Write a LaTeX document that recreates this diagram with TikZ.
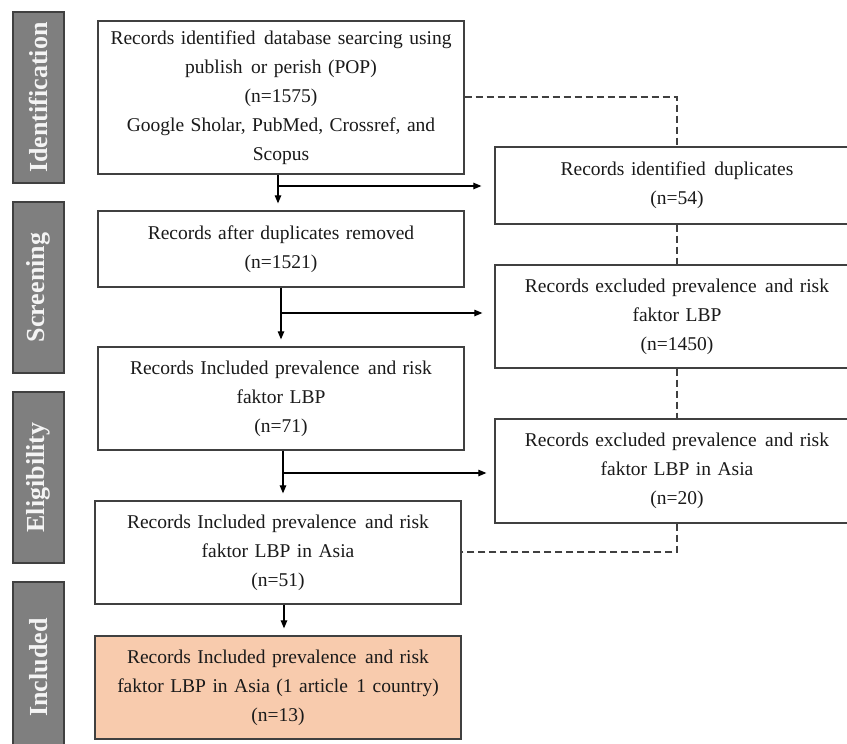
\documentclass[tikz,border=0pt]{standalone}
\usepackage{fontspec}
\setmainfont{Liberation Serif}
\usetikzlibrary{arrows.meta,calc}
\definecolor{boxline}{HTML}{404040}
\definecolor{sidefill}{HTML}{7F7F7F}
\definecolor{sidetext}{HTML}{F4F4F4}
\definecolor{incfill}{HTML}{F8CBAD}
\definecolor{txt}{HTML}{1A1A1A}
\newcommand{\xsp}{\ \hspace{2pt}}
\begin{document}
\begin{tikzpicture}[x=1pt,y=-1pt,
  flowbox/.style={draw=boxline, line width=1.3pt, fill=white, rectangle, inner sep=0pt,
    minimum width=366pt, text width=350pt, align=center, text=txt,
    font=\fontsize{19.5}{29}\selectfont},
  sidebox/.style={draw=boxline, line width=1.3pt, fill=sidefill, rectangle, inner sep=0pt,
    minimum width=171pt, minimum height=51pt, rotate=90, text=sidetext,
    font=\fontsize{26}{30}\selectfont\bfseries},
  arr/.style={line width=1.2pt, draw=black, -{Triangle[length=8pt,width=6.5pt]}},
  dashline/.style={line width=1.1pt, draw=boxline, dash pattern=on 7pt off 4pt}
]
\useasboundingbox (0,0) rectangle (847,744);
\fill[white] (0,0) rectangle (847,744);

% dashed line corners
\coordinate (dtop) at (677,97);
\coordinate (dbot) at (677,552);

% side labels
\node[sidebox] (sid) at (38.5,97.5) {Identification};
\node[sidebox] (sscr) at (38.5,287.5) {Screening};
\node[sidebox] (seli) at (38.5,477.5) {Eligibility};
\node[sidebox] (sinc) at (38.5,667.5) {Included};

% left column
\node[flowbox, minimum height=153pt] (b1) at (281,97.5)
 {Records identified\xsp database searcing using\\publish\xsp or perish (POP)\\(n=1575)\\Google Sholar, PubMed, Crossref, and\\Scopus};
\node[flowbox, minimum height=76pt] (b2) at (281,249)
 {Records after duplicates removed\\(n=1521)};
\node[flowbox, minimum height=103pt] (b3) at (281,398.5)
 {Records Included prevalence\xsp and risk\\faktor LBP\\(n=71)};
\node[flowbox, minimum height=103pt] (b4) at (278,552.5)
 {Records Included prevalence\xsp and risk\\faktor LBP in Asia\\(n=51)};
\node[flowbox, minimum height=103pt, fill=incfill] (b5) at (278,687.5)
 {Records Included prevalence\xsp and risk\\faktor LBP in Asia (1 article\xsp 1 country)\\(n=13)};

% right column
\node[flowbox, minimum width=364pt, minimum height=77pt] (r1) at (677,185.5)
 {Records identified\xsp duplicates\\(n=54)};
\node[flowbox, minimum width=364pt, minimum height=103pt] (r2) at (677,316.5)
 {Records excluded prevalence\xsp and risk\\faktor LBP\\(n=1450)};
\node[flowbox, minimum width=364pt, minimum height=104pt] (r3) at (677,471)
 {Records excluded prevalence\xsp and risk\\faktor LBP in Asia\\(n=20)};

% dashed connections
\draw[dashline] (b1.east |- dtop) -- (dtop) -- (r1.north);
\draw[dashline] (r1.south) -- (r2.north);
\draw[dashline] (r2.south) -- (r3.north);
\draw[dashline] (r3.south) -- (dbot) -- (b4.east |- dbot);

% junctions
\coordinate (j1) at (278,186);
\coordinate (j2) at (281,313);
\coordinate (j3) at (283,473);
\coordinate (j4) at (284,620);

\draw[arr, shorten >=7pt] (j1 |- b1.south) -- (j1 |- b2.north);
\draw[arr, shorten >=13pt] (j1) -- (j1 -| r1.west);
\draw[arr, shorten >=7pt] (j2 |- b2.south) -- (j2 |- b3.north);
\draw[arr, shorten >=12pt] (j2) -- (j2 -| r2.west);
\draw[arr, shorten >=7pt] (j3 |- b3.south) -- (j3 |- b4.north);
\draw[arr, shorten >=8pt] (j3) -- (j3 -| r3.west);
\draw[arr, shorten >=7pt] (j4 |- b4.south) -- (j4 |- b5.north);
\end{tikzpicture}
\end{document}
